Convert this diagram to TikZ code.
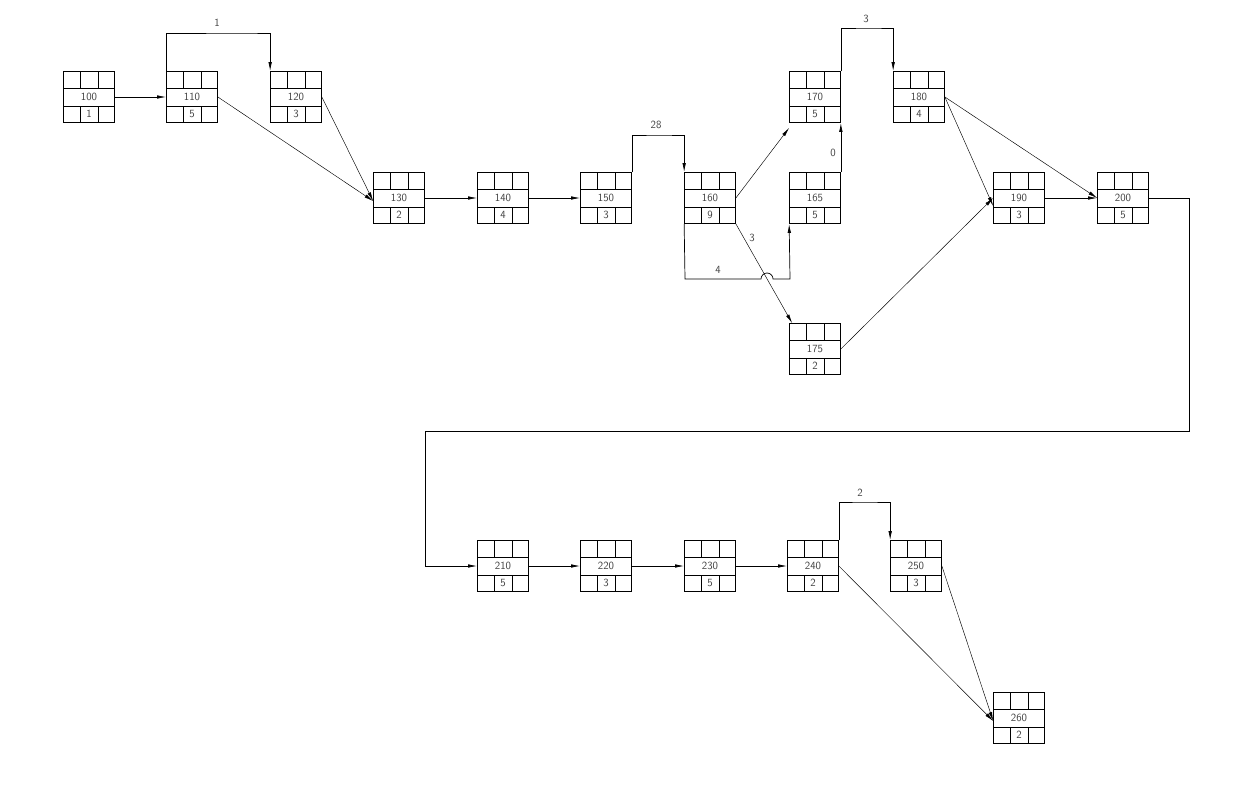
\documentclass[tikz,border=0pt]{standalone}
\usetikzlibrary{arrows.meta}
\tikzset{
  box/.style={draw,rectangle,inner sep=0,minimum width=51pt,minimum height=51pt,line width=0.7pt},
  lnk/.style={line width=0.7pt,-{Latex[length=9pt,width=3.5pt]}},
  dg/.style={line width=0.45pt,-{Latex[length=9pt,width=3.5pt]}},
  lbl/.style={font=\sffamily\fontsize{11}{13}\selectfont,text=black!75}
}
\newcommand\actbox[4]{%
  \node[box] (n#1) at (#2,#3) {};
  \draw[line width=0.7pt] ([yshift=-17pt]n#1.north west) -- ([yshift=-17pt]n#1.north east)
    ([yshift=17pt]n#1.south west) -- ([yshift=17pt]n#1.south east)
    ([xshift=17pt]n#1.north west) -- ([xshift=17pt,yshift=-17pt]n#1.north west)
    ([xshift=-17pt]n#1.north east) -- ([xshift=-17pt,yshift=-17pt]n#1.north east)
    ([xshift=17pt]n#1.south west) -- ([xshift=17pt,yshift=17pt]n#1.south west)
    ([xshift=-17pt]n#1.south east) -- ([xshift=-17pt,yshift=17pt]n#1.south east);
  \node[lbl] at (n#1.center) {#1};
  \node[lbl] at ([yshift=-17pt]n#1.center) {#4};
}
\begin{document}
\begin{tikzpicture}[x=1pt,y=-1pt]
\useasboundingbox (0,0) rectangle (1233,792);
\actbox{100}{89}{97}{1}
\actbox{110}{192}{97}{5}
\actbox{120}{296}{97}{3}
\actbox{130}{399}{198}{2}
\actbox{140}{503}{198}{4}
\actbox{150}{606}{198}{3}
\actbox{160}{710}{198}{9}
\actbox{170}{815}{97}{5}
\actbox{165}{815}{198}{5}
\actbox{175}{815}{349}{2}
\actbox{180}{919}{97}{4}
\actbox{190}{1019}{198}{3}
\actbox{200}{1123}{198}{5}
\actbox{210}{503}{566}{5}
\actbox{220}{606}{566}{3}
\actbox{230}{710}{566}{5}
\actbox{240}{813}{566}{2}
\actbox{250}{916}{566}{3}
\actbox{260}{1019}{718}{2}
% links
\draw[lnk] (n100.east) -- (n110.west);
\draw[lnk] (n110.north west) |- (245,33) -| (n120.north west);
\node[lbl] at (217,23) {1};
\draw[dg] (n110.east) -- ([yshift=-3pt]n130.west);
\draw[dg] (n120.east) -- ([yshift=-3pt]n130.west);
\draw[lnk] (n130.east) -- (n140.west);
\draw[lnk] (n140.east) -- (n150.west);
\draw[lnk] (n150.north east) |- (660,135) -| (n160.north west);
\node[lbl] at (656,125) {28};
\draw[dg] (n160.east) -- ([yshift=-5pt]n170.south west);
\draw[lnk] (n160.south west) -- (685,279) -- (761,279) arc[start angle=180,end angle=360,radius=6] -- (790,279) -- (n165.south west);
\node[lbl] at (718,270) {4};
\draw[dg] (n160.south east) -- ([xshift=3pt]n175.north west);
\node[lbl] at (752,238) {3};
\draw[lnk] (n165.north east) -- (n170.south east);
\node[lbl] at (833,153) {0};
\draw[lnk] (n170.north east) |- (870,28) -| (n180.north west);
\node[lbl] at (866,19) {3};
\draw[dg] (n180.east) -- ([yshift=-8pt]n190.west);
\draw[dg] (n180.east) -- (n200.west);
\draw[dg] (n175.east) -- (n190.west);
\draw[lnk] (n190.east) -- (n200.west);
\draw[lnk] (n200.east) -- (1189,198) -- (1189,431) -- (425,431) -- (425,566) -- (n210.west);
\draw[lnk] (n210.east) -- (n220.west);
\draw[lnk] (n220.east) -- (n230.west);
\draw[lnk] (n230.east) -- (n240.west);
\draw[lnk] (n240.north east) |- (865,502) -| (n250.north west);
\node[lbl] at (860,493) {2};
\draw[dg] (n240.east) -- ([yshift=-3pt]n260.west);
\draw[dg] (n250.east) -- ([yshift=-3pt]n260.west);
\end{tikzpicture}
\end{document}
